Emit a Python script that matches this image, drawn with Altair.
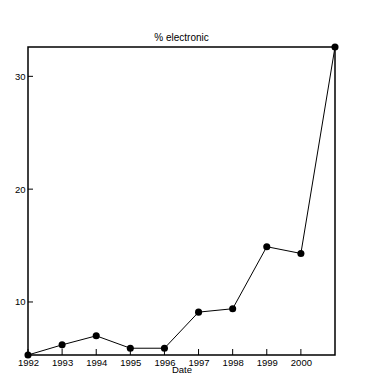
import altair as alt
import pandas as pd

years = [1992, 1993, 1994, 1995, 1996, 1997, 1998, 1999, 2000, 2001]
pct = [5.3, 6.2, 7.0, 5.9, 5.9, 9.1, 9.4, 14.9, 14.3, 32.6]
x_ticks = [1992, 1993, 1994, 1995, 1996, 1997, 1998, 1999, 2000]
y_ticks = [10, 20, 30]

df = pd.DataFrame({"Date": years, "pct": pct})
xt = pd.DataFrame({"t": x_ticks})
yt = pd.DataFrame({"t": y_ticks})

W, H = 307, 308
FONT = "Liberation Sans"

xscale = alt.Scale(domain=[1992, 2001], nice=False, zero=False)
yscale = alt.Scale(domain=[5.3, 32.6], nice=False, zero=False)

xaxis = alt.Axis(values=x_ticks, format="d", title="Date", grid=False, ticks=False,
                 domain=False, labelFont=FONT, labelFontSize=9.5, labelColor="black",
                 labelPadding=2, labelOverlap=False, labelBound=False, labelFlush=False,
                 titleFont=FONT, titleFontSize=9.5, titleFontWeight="normal",
                 titleColor="black", titlePadding=-2)
yaxis = alt.Axis(values=y_ticks, title=None, grid=False, ticks=False, domain=False,
                 labelFont=FONT, labelFontSize=9.5, labelColor="black", labelPadding=3,
                 labelOverlap=False)

xtick = alt.Chart(xt).mark_rule(color="black", strokeWidth=1).encode(
    x=alt.X("t:Q", scale=xscale, axis=xaxis),
    y=alt.value(H - 6),
    y2=alt.value(H),
)
ytick = alt.Chart(yt).mark_rule(color="black", strokeWidth=1).encode(
    y=alt.Y("t:Q", scale=yscale, axis=yaxis),
    x=alt.value(0),
    x2=alt.value(5),
)
line = alt.Chart(df).mark_line(color="black", strokeWidth=1).encode(
    x=alt.X("Date:Q", scale=xscale, axis=xaxis),
    y=alt.Y("pct:Q", scale=yscale, axis=yaxis),
)
pts = alt.Chart(df).mark_point(filled=True, color="black", size=50, opacity=1).encode(
    x=alt.X("Date:Q", scale=xscale, axis=xaxis),
    y=alt.Y("pct:Q", scale=yscale, axis=yaxis),
)

chart = alt.layer(xtick, ytick, line, pts).properties(
    width=W, height=H,
    title=alt.Title("% electronic", font=FONT, fontSize=10, fontWeight="normal",
                    color="black", offset=0),
    autosize=alt.AutoSizeParams(type="none"),
    padding={"left": 20, "top": 39, "right": 41, "bottom": 21},
).configure(background="white").configure_view(stroke="black", strokeWidth=1.5)

chart.save("out.html", embed_options={"renderer": "svg", "actions": False})
